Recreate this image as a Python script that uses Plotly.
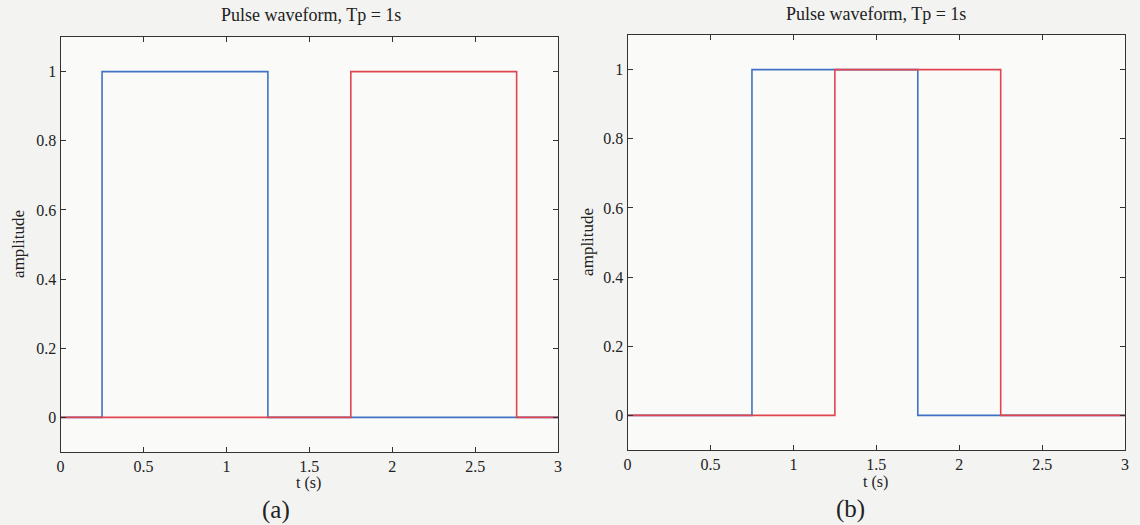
import plotly.graph_objects as go

# Data: step waveforms (value holds until next time point)
t_a_blue = [0, 0.25, 1.25, 3]
v_a_blue = [0, 1, 0, 0]
t_a_red = [0, 1.75, 2.75, 3]
v_a_red = [0, 1, 0, 0]

t_b_blue = [0, 0.75, 1.75, 3]
v_b_blue = [0, 1, 0, 0]
t_b_red = [0, 1.25, 2.25, 3]
v_b_red = [0, 1, 0, 0]

x_ticks = [0, 0.5, 1, 1.5, 2, 2.5, 3]
x_labels = ["0", "0.5", "1", "1.5", "2", "2.5", "3"]
y_ticks = [0, 0.2, 0.4, 0.6, 0.8, 1]
y_labels = ["0", "0.2", "0.4", "0.6", "0.8", "1"]

title_text = "Pulse waveform, Tp = 1s"
BLUE = "#3f72c4"
RED = "#e0444e"
FONT = "Liberation Serif"

fig = go.Figure()
fig.add_trace(go.Scatter(x=t_a_blue, y=v_a_blue, mode="lines", line=dict(color=BLUE, width=1.6, shape="hv"), xaxis="x", yaxis="y"))
fig.add_trace(go.Scatter(x=t_a_red, y=v_a_red, mode="lines", line=dict(color=RED, width=1.6, shape="hv"), xaxis="x", yaxis="y"))
fig.add_trace(go.Scatter(x=t_b_blue, y=v_b_blue, mode="lines", line=dict(color=BLUE, width=1.6, shape="hv"), xaxis="x2", yaxis="y2"))
fig.add_trace(go.Scatter(x=t_b_red, y=v_b_red, mode="lines", line=dict(color=RED, width=1.6, shape="hv"), xaxis="x2", yaxis="y2"))

axis_common = dict(showline=True, linecolor="#333", linewidth=1.2, mirror="ticks",
                   ticks="inside", ticklen=5, tickcolor="#333", showgrid=False, zeroline=False,
                   tickfont=dict(family=FONT, size=16, color="#222"))

W, H = 1140, 525
def xd(a, b):
    return [a / W, b / W]
def yd(top, bot):
    return [1 - bot / H, 1 - top / H]

fig.update_layout(
    width=W, height=H,
    margin=dict(l=0, r=0, t=0, b=0),
    paper_bgcolor="#f3f3f1",
    plot_bgcolor="#fafaf8",
    showlegend=False,
    xaxis=dict(domain=xd(57, 558), range=[0, 3], tickvals=x_ticks, ticktext=x_labels, anchor="y", **axis_common),
    yaxis=dict(domain=yd(37, 452), range=[-0.1, 1.1], tickvals=y_ticks, ticktext=y_labels, anchor="x", **axis_common),
    xaxis2=dict(domain=xd(628, 1129), range=[0, 3], tickvals=x_ticks, ticktext=x_labels, anchor="y2", **axis_common),
    yaxis2=dict(domain=yd(35, 450), range=[-0.1, 1.1], tickvals=y_ticks, ticktext=y_labels, anchor="x2", **axis_common),
)

def ann(text, x, y, size, angle=0):
    fig.add_annotation(text=text, x=x / W, y=1 - y / H, xref="paper", yref="paper",
                       showarrow=False, textangle=angle, xanchor="center", yanchor="middle",
                       font=dict(family=FONT, size=size, color="#222"))

ann(title_text, 309, 15, 18)
ann(title_text, 878, 14, 18)
ann("amplitude", 15, 244, 17, -90)
ann("amplitude", 587, 242, 17, -90)
ann("t (s)", 307, 483, 16)
ann("t (s)", 878, 482, 16)
ann("(a)", 274, 510, 25)
ann("(b)", 852, 509, 25)

fig.write_html("out.html")
